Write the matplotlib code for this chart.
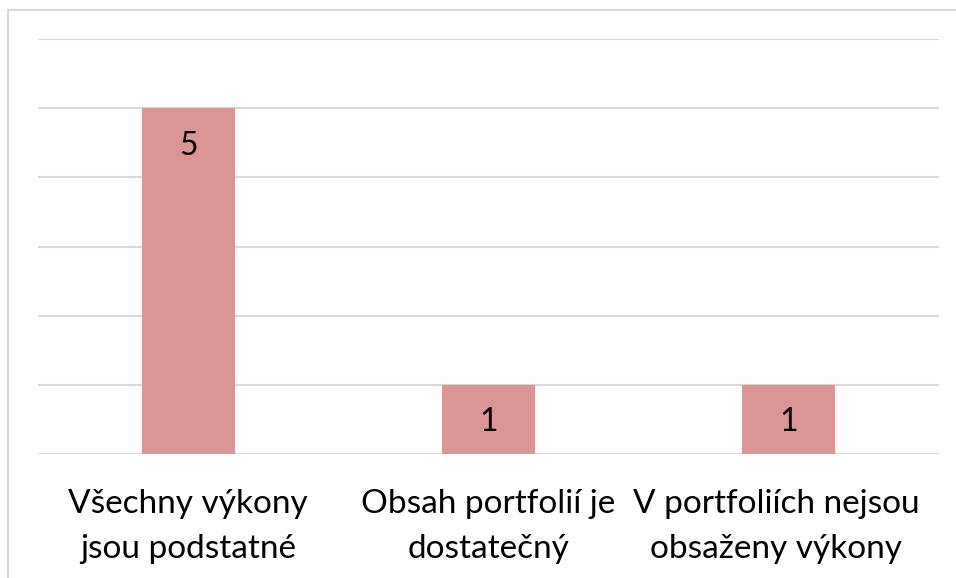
import matplotlib
matplotlib.use("Agg")
import matplotlib.pyplot as plt
from matplotlib.lines import Line2D
import matplotlib.transforms as mtransforms

categories = ["Všechny výkony\njsou podstatné",
              "Obsah portfolií je\ndostatečný",
              "V portfoliích nejsou\nobsaženy výkony"]
values = [5, 1, 1]
bar_color = "#D99694"
grid_color = "#D9D9D9"

plt.rcParams["font.family"] = ["Lato", "DejaVu Sans"]

fig = plt.figure(figsize=(9.56, 5.78), dpi=100)
ax = fig.add_axes([38 / 956, 124 / 578, 901 / 956, 415 / 578])

x = list(range(len(categories)))
bars = ax.bar(x, values, width=0.31, color=bar_color, zorder=2)

ax.set_xlim(-0.5, 2.5)
ax.set_ylim(0, 6)
ax.set_yticks(range(0, 7))
ax.yaxis.grid(True, color=grid_color, linewidth=1.5, zorder=0)
ax.set_axisbelow(True)
ax.tick_params(left=False, bottom=False, labelleft=False, labelbottom=False)
for s in ax.spines.values():
    s.set_visible(False)

# value labels near the top of each bar
for rect, v in zip(bars, values):
    ax.annotate(str(v), (rect.get_x() + rect.get_width() / 2, v),
                xytext=(0, -27), textcoords="offset points",
                ha="center", va="center", fontsize=23, color="black")

# category labels under the bars (the last one pulled in a little)
nudges = [0, 0, -13]
for xi, label, dx in zip(x, categories, nudges):
    tr = ax.get_xaxis_transform() + mtransforms.ScaledTranslation(dx / 100, 0, fig.dpi_scale_trans)
    ax.text(xi, -0.085, label, transform=tr, ha="center", va="top",
            fontsize=24, linespacing=1.6, color="black")

# light frame around the chart area
fig.add_artist(Line2D([8 / 956, 8 / 956], [0, 1 - 10 / 578], color=grid_color, linewidth=1.5))
fig.add_artist(Line2D([8 / 956, 1], [1 - 10 / 578, 1 - 10 / 578], color=grid_color, linewidth=1.5))

fig.savefig("out.png", dpi=100)
plt.close(fig)
